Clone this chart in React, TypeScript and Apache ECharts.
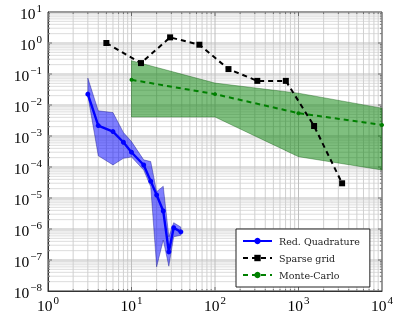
import React, { useEffect, useRef } from "react";
import * as echarts from "echarts";

// Reduced quadrature
const rqN = [3, 4, 6, 8, 10, 14, 17, 20, 24, 28, 32, 39];
const rqErr = [0.0224, 0.00217, 0.00139, 6.3e-4, 3.0e-4, 1.16e-4, 3.5e-5, 1.25e-5, 3.8e-6, 1.83e-7, 1.1e-6, 8.1e-7];
const rqUpper = [0.074, 0.0065, 0.0057, 0.0013, 6.6e-4, 1.7e-4, 1.5e-4, 1.6e-5, 2.4e-5, 5.6e-7, 1.6e-6, 1.15e-6];
const rqLower = [0.02, 2.3e-4, 1.17e-4, 1.9e-4, 2.1e-4, 8e-5, 2.3e-5, 6e-8, 4.4e-7, 6.3e-8, 5.6e-7, 6.3e-7];

// Sparse grid
const spN = [5, 13, 29, 65, 145, 321, 705, 1537, 3329];
const spErr = [1.0, 0.225, 1.52, 0.88, 0.144, 0.06, 0.06, 0.0021, 2.98e-5];

// Monte-Carlo
const mcN = [10, 100, 1000, 10000];
const mcErr = [0.065, 0.0224, 0.00546, 0.00228];
const mcUpper = [0.268, 0.051, 0.024, 0.0079];
const mcLower = [0.0041, 0.0041, 2.15e-4, 8e-5];

const xDecades = [0, 1, 2, 3, 4];
const yDecades = [-8, -7, -6, -5, -4, -3, -2, -1, 0, 1];

const FONT = "Liberation Serif";

function pow10Label(v: number) {
  const e = Math.round(Math.log10(v));
  const s = e < 0 ? "\u2212" + Math.abs(e) : String(e);
  return "{b|10}{s|" + s + "}";
}

const richLabel = {
  b: { fontSize: 15.5, fontFamily: FONT, color: "#000", verticalAlign: "bottom", lineHeight: 18 },
  s: { fontSize: 11, fontFamily: FONT, color: "#000", verticalAlign: "bottom", lineHeight: 18, padding: [0, 0, 8, 1] },
};

export default function App() {
  const ref = useRef<HTMLDivElement>(null);
  useEffect(() => {
    if (!ref.current) return;
    const chart = echarts.init(ref.current, undefined, { renderer: "svg" });

    const minorX: number[] = [];
    const majorX: number[] = [];
    for (let i = 0; i < xDecades.length - 1; i++) {
      const b = Math.pow(10, xDecades[i]);
      if (i > 0) majorX.push(b);
      for (let m = 2; m <= 9; m++) minorX.push(m * b);
    }
    const minorY: number[] = [];
    const majorY: number[] = [];
    for (let i = 0; i < yDecades.length - 1; i++) {
      const b = Math.pow(10, yDecades[i]);
      if (i > 0) majorY.push(b);
      for (let m = 2; m <= 9; m++) minorY.push(m * b);
    }

    const gridSeries = {
      type: "custom",
      silent: true,
      z: 1,
      data: [[1, 1]],
      renderItem: (params: any, api: any) => {
        const cs = params.coordSys;
        const children: any[] = [];
        const yTop = cs.y, yBot = cs.y + cs.height, xL = cs.x, xR = cs.x + cs.width;
        const addV = (v: number, color: string, tick: number) => {
          const p = api.coord([v, 1]);
          children.push({ type: "line", shape: { x1: p[0], y1: yTop, x2: p[0], y2: yBot }, style: { stroke: color, lineWidth: 1 } });
          children.push({ type: "line", shape: { x1: p[0], y1: yBot, x2: p[0], y2: yBot - tick }, style: { stroke: "#444", lineWidth: 0.7 } });
          children.push({ type: "line", shape: { x1: p[0], y1: yTop, x2: p[0], y2: yTop + tick }, style: { stroke: "#444", lineWidth: 0.7 } });
        };
        const addH = (v: number, color: string, tick: number) => {
          const p = api.coord([1, v]);
          children.push({ type: "line", shape: { x1: xL, y1: p[1], x2: xR, y2: p[1] }, style: { stroke: color, lineWidth: 1 } });
          children.push({ type: "line", shape: { x1: xL, y1: p[1], x2: xL + tick, y2: p[1] }, style: { stroke: "#444", lineWidth: 0.7 } });
          children.push({ type: "line", shape: { x1: xR, y1: p[1], x2: xR - tick, y2: p[1] }, style: { stroke: "#444", lineWidth: 0.7 } });
        };
        minorY.forEach((v) => addH(v, "#dcdcdc", 2));
        minorX.forEach((v) => addV(v, "#d0d0d0", 2));
        majorY.forEach((v) => addH(v, "#bebebe", 4));
        majorX.forEach((v) => addV(v, "#bebebe", 4));
        return { type: "group", children };
      },
    };

    const bandSeries = (xs: number[], up: number[], lo: number[], fill: string, stroke: string, z: number) => ({
      type: "custom",
      silent: true,
      z,
      data: [[xs[0], up[0]]],
      renderItem: (params: any, api: any) => {
        const pts: number[][] = [];
        for (let i = 0; i < xs.length; i++) pts.push(api.coord([xs[i], up[i]]));
        for (let i = xs.length - 1; i >= 0; i--) pts.push(api.coord([xs[i], lo[i]]));
        return {
          type: "polygon",
          shape: { points: pts },
          style: { fill, stroke, lineWidth: 0.6 },
        };
      },
    });

    const axisLabelBase = { formatter: pow10Label, rich: richLabel, fontSize: 15.5, fontFamily: FONT, color: "#000" };

    chart.setOption({
      animation: false,
      grid: { left: 48, right: 24, top: 12, bottom: 26, show: true, borderColor: "#333", borderWidth: 1, backgroundColor: "transparent" },
      legend: {
        data: ["Red. Quadrature", "Sparse grid", "Monte-Carlo"],
        orient: "vertical",
        left: 236,
        top: 229,
        itemWidth: 29,
        itemHeight: 8,
        itemGap: 7,
        padding: [7, 10, 7, 6],
        borderColor: "#222",
        borderWidth: 1,
        backgroundColor: "#fff",
        textStyle: { fontFamily: "DejaVu Serif", fontSize: 9.5, color: "#222", padding: [0, 0, 0, 2] },
      },
      xAxis: {
        type: "log",
        logBase: 10,
        min: 1,
        max: 10000,
        splitNumber: 4,
        axisLine: { show: true, onZero: false, lineStyle: { color: "#333", width: 1 } },
        axisTick: { show: false },
        splitLine: { show: false },
        axisLabel: { ...axisLabelBase, margin: 4 },
      },
      yAxis: {
        type: "log",
        logBase: 10,
        min: 1e-8,
        max: 10,
        splitNumber: 9,
        interval: 1,
        axisLine: { show: true, onZero: false, lineStyle: { color: "#333", width: 1 } },
        axisTick: { show: false },
        splitLine: { show: false },
        axisLabel: { ...axisLabelBase, margin: 6 },
      },
      series: [
        gridSeries,
        bandSeries(mcN, mcUpper, mcLower, "rgba(0,128,0,0.5)", "rgba(0,80,0,0.6)", 2),
        bandSeries(rqN, rqUpper, rqLower, "rgba(0,0,255,0.5)", "rgba(0,0,120,0.6)", 2),
        {
          name: "Red. Quadrature",
          type: "line",
          z: 4,
          data: rqN.map((n, i) => [n, rqErr[i]]),
          symbol: "circle",
          symbolSize: 5,
          itemStyle: { color: "#0000ff" },
          lineStyle: { color: "#0000ff", width: 2.4 },
        },
        {
          name: "Sparse grid",
          type: "line",
          z: 4,
          data: spN.map((n, i) => [n, spErr[i]]),
          symbol: "rect",
          symbolSize: 6,
          itemStyle: { color: "#000" },
          lineStyle: { color: "#000", width: 2, type: [5, 4] },
        },
        {
          name: "Monte-Carlo",
          type: "line",
          z: 4,
          data: mcN.map((n, i) => [n, mcErr[i]]),
          symbol: "circle",
          symbolSize: 4,
          itemStyle: { color: "#008000" },
          lineStyle: { color: "#008000", width: 2, type: [5, 4] },
        },
      ],
    });

    return () => chart.dispose();
  }, []);

  return <div ref={ref} style={{ position: "fixed", left: 0, top: 0, width: 406, height: 317 }} />;
}
